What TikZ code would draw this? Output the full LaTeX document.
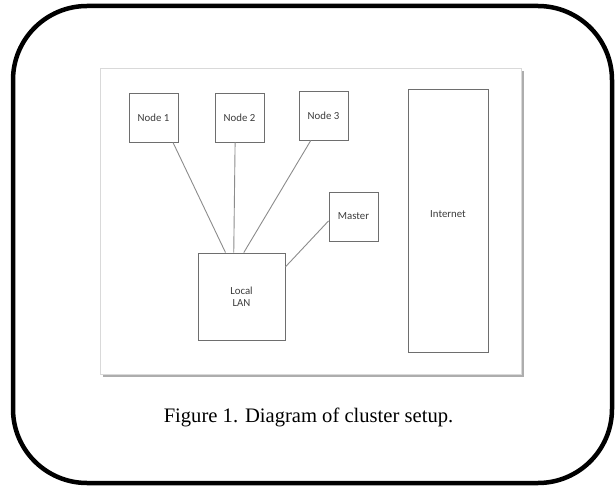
\documentclass[tikz,border=0pt]{standalone}
\usepackage{fontspec}
\setmainfont{Liberation Serif}
\newfontfamily\labelfont{Carlito}
\usepackage{xcolor}
\definecolor{ink}{HTML}{000000}
\definecolor{boxline}{HTML}{6E6E6E}
\definecolor{wire}{HTML}{8C8C8C}
\definecolor{labelgray}{HTML}{3C3C3C}
\definecolor{panelshade}{HTML}{8A8A8A}
\usepackage{tikz}
\usetikzlibrary{shadows}

\begin{document}
\begin{tikzpicture}[
  x=1pt, y=-1pt,
  font=\labelfont\fontsize{10.8}{12.5}\selectfont,
  box/.style={draw=boxline, fill=white, line width=0.9pt, text=labelgray,
              minimum width=49pt, minimum height=49pt, align=center, inner sep=2pt},
  link/.style={wire, line width=0.9pt},
  panel/.style={draw=black!15, fill=white, line width=0.8pt,
                drop shadow={shadow xshift=2.5pt, shadow yshift=-3pt, fill=panelshade, opacity=0.7}}
]
  \useasboundingbox (0,0) rectangle (616,487);

  % outer frame and figure panel
  \draw[ink, line width=4.5pt, rounded corners=74pt] (13,6) rectangle (612,483);
  \node[panel, minimum width=421pt, minimum height=306pt, inner sep=0pt] (panel) at (310.5,221) {};

  % machines
  \node[box] (n1) at (153.5,117.5) {Node 1};
  \node[box] (n2) at (239.5,117.5) {Node 2};
  \node[box] (n3) at (323.5,115.5) {Node 3};
  \node[box] (master) at (353.5,216.5) {Master};
  \node[box, minimum width=87pt, minimum height=87pt] (lan) at (241.5,296.5) {Local\\LAN};
  \node[box, minimum width=80pt, minimum height=263pt, text depth=12pt] (inet) at (448,220.5) {Internet};

  \draw[link] (n1.-52) -- (lan.110);
  \draw[link] (n2.-100) -- (lan.100);
  \draw[link] (n3.-117) -- (lan.87);
  \draw[link] (master.-170) -- (lan.34);

  \node[font=\rmfamily\fontsize{20.6}{24}\selectfont, text=ink] (caption) at (308.5,417)
       {Figure 1. Diagram of cluster setup.};
\end{tikzpicture}
\end{document}
